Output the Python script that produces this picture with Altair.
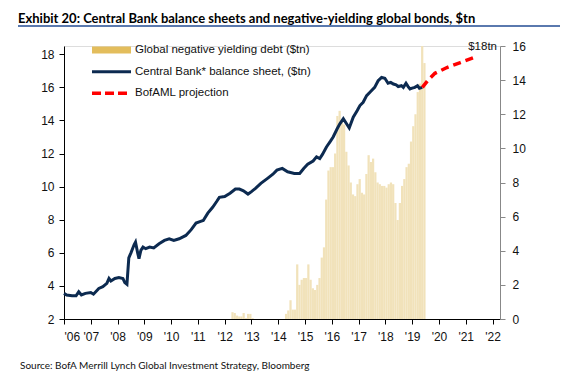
import altair as alt
import pandas as pd

# ---------------- data ----------------
cb_years = [2006.0, 2006.1, 2006.3, 2006.45, 2006.55, 2006.65, 2006.8, 2007.0, 2007.1, 2007.3,
            2007.45, 2007.6, 2007.68, 2007.75, 2007.9, 2008.05, 2008.2, 2008.27, 2008.35, 2008.42,
            2008.5, 2008.62, 2008.67, 2008.75, 2008.8, 2008.87, 2008.95, 2009.05, 2009.2, 2009.35,
            2009.55, 2009.75, 2009.93, 2010.1, 2010.3, 2010.55, 2010.75, 2010.93, 2011.1, 2011.2,
            2011.37, 2011.55, 2011.7, 2011.8, 2012.0, 2012.2, 2012.4, 2012.55, 2012.7, 2012.87,
            2013.0, 2013.15, 2013.35, 2013.6, 2013.8, 2013.95, 2014.15, 2014.35, 2014.6, 2014.8,
            2014.95, 2015.1, 2015.3, 2015.43, 2015.55, 2015.65, 2015.8, 2015.95, 2016.05, 2016.2,
            2016.3, 2016.43, 2016.55, 2016.65, 2016.8, 2016.95, 2017.05, 2017.17, 2017.3, 2017.45,
            2017.6, 2017.73, 2017.86, 2017.98, 2018.1, 2018.2, 2018.3, 2018.4, 2018.48, 2018.6,
            2018.67, 2018.77, 2018.85, 2018.92, 2019.0, 2019.1, 2019.2, 2019.27, 2019.38]
cb_values = [3.55, 3.45, 3.4, 3.4, 3.65, 3.45, 3.55, 3.6, 3.5, 3.85,
             3.95, 4.15, 4.45, 4.3, 4.45, 4.5, 4.45, 4.2, 4.1, 5.7,
             6.0, 6.5, 6.65, 6.0, 5.65, 6.15, 6.35, 6.25, 6.35, 6.3,
             6.55, 6.75, 6.85, 6.75, 6.85, 7.05, 7.4, 7.8, 7.9, 7.95,
             8.4, 8.75, 9.1, 9.35, 9.4, 9.6, 9.85, 9.85, 9.75, 9.55,
             9.7, 9.9, 10.2, 10.5, 10.75, 11.0, 11.1, 10.9, 10.8, 10.8,
             11.1, 11.35, 11.55, 11.8, 11.7, 11.95, 12.4, 12.75, 13.0, 13.5,
             13.8, 14.1, 13.8, 13.55, 14.2, 14.6, 14.9, 15.1, 15.5, 15.75,
             16.0, 16.4, 16.6, 16.55, 16.25, 16.3, 16.2, 16.15, 16.05, 16.1,
             16.0, 16.25, 16.05, 15.9, 15.95, 16.0, 16.1, 15.95, 16.0]

proj_years = [2019.38, 2019.6, 2019.85, 2020.3, 2020.8, 2021.3]
proj_values = [16.0, 16.45, 16.85, 17.2, 17.5, 17.8]

# Global negative-yielding debt ($tn), monthly from Jan 2012
nyd_2012 = [0, 0, 0, 0.4, 0.35, 0.2, 0.15, 0.15, 0.35, 0.05, 0.3, 0.3]
nyd_2013 = [0.05, 0, 0, 0, 0, 0, 0, 0, 0, 0, 0, 0]
nyd_2014 = [0, 0, 0, 0.3, 0.5, 1.1, 0.55, 0.55, 3.2, 2.0, 2.3, 2.4]
nyd_2015 = [2.4, 3.2, 2.3, 1.8, 1.7, 2.0, 2.4, 3.6, 4.2, 7.0, 8.7, 8.9]
nyd_2016 = [8.9, 9.7, 11.9, 12.2, 11.6, 11.4, 9.8, 9.0, 8.0, 7.3, 7.2, 7.9]
nyd_2017 = [8.2, 7.4, 7.3, 8.5, 9.6, 9.2, 9.4, 8.6, 8.0, 7.9, 7.8, 7.8]
nyd_2018 = [7.7, 7.9, 8.0, 7.9, 6.8, 5.8, 6.8, 7.8, 8.2, 8.9, 9.1, 10.4]
nyd_2019 = [11.3, 12.0, 13.3, 13.8, 16.0, 15.0]
nyd_first_year = 2012

year_ticks = list(range(2006, 2023))
left_ticks = [2, 4, 6, 8, 10, 12, 14, 16, 18]
right_ticks = [0, 2, 4, 6, 8, 10, 12, 14, 16]

title_text = "Exhibit 20: Central Bank balance sheets and negative-yielding global bonds, $tn"
source_text = "Source:  BofA Merrill Lynch Global Investment Strategy, Bloomberg"
legend_labels = ["Global negative yielding debt ($tn)",
                 "Central Bank* balance sheet, ($tn)",
                 "BofAML projection"]
annot_text = "$18tn"
annot_year, annot_value = 2021.63, 18.44

# ---------------- tables ----------------
nyd = nyd_2012 + nyd_2013 + nyd_2014 + nyd_2015 + nyd_2016 + nyd_2017 + nyd_2018 + nyd_2019
bars_df = pd.DataFrame({
    "start": [nyd_first_year + i / 12 for i in range(len(nyd))],
    "end": [nyd_first_year + (i + 1) / 12 for i in range(len(nyd))],
    "debt": nyd,
})
cb_df = pd.DataFrame({"year": cb_years, "value": cb_values})
proj_df = pd.DataFrame({"year": proj_years, "value": proj_values})
annot_df = pd.DataFrame({"year": [annot_year], "value": [annot_value], "label": [annot_text]})
one = alt.Data(values=[{"a": 1}])

FONT = "Liberation Sans"
TFONT = "Lato"
TXT = "#111111"
NAVY = "#0C2A50"
RED = "#FF0000"
GOLD = "#E3BD5C"
GOLD_LIGHT = "#F1E2BA"

W, H = 436, 273

xscale = alt.Scale(domain=[2006, 2022.28], nice=False, zero=False)
xaxis = alt.Axis(values=year_ticks, labelExpr="\"'\" + substring(toString(datum.value), 2, 4)",
                 tickSize=5, labelPadding=7, labelFont=FONT, labelFontSize=12,
                 labelColor=TXT, domainColor="#000", tickColor="#000", grid=False, title=None)
left_scale = alt.Scale(domain=[2, 18.5], nice=False, zero=False)
left_axis = alt.Axis(values=left_ticks, orient="left", tickSize=5, labelPadding=5,
                     labelFont=FONT, labelFontSize=12, labelColor=TXT,
                     domainColor="#000", tickColor="#000", grid=False, title=None)
right_scale = alt.Scale(domain=[0, 16], nice=False, zero=True)
right_axis = alt.Axis(values=right_ticks, orient="right", tickSize=5, labelPadding=7,
                      labelFont=FONT, labelFontSize=12, labelColor=TXT,
                      domainColor="#888", tickColor="#888", grid=False, title=None)

X = alt.X("year:Q", scale=xscale, axis=xaxis)
YL = alt.Y("value:Q", scale=left_scale, axis=left_axis)

bars = alt.Chart(bars_df).mark_bar(color=GOLD_LIGHT).encode(
    x=alt.X("start:Q", scale=xscale, axis=xaxis),
    x2="end:Q",
    y=alt.Y("debt:Q", scale=right_scale, axis=right_axis),
    y2=alt.datum(0),
)

cb_line = alt.Chart(cb_df).mark_line(color=NAVY, strokeWidth=3).encode(x=X, y=YL)
proj_line = alt.Chart(proj_df).mark_line(color=RED, strokeWidth=3.5, strokeDash=[8, 5]).encode(x=X, y=YL)
annot = alt.Chart(annot_df).mark_text(font=FONT, fontSize=11.5, color=TXT, align="center",
                                      baseline="middle").encode(x=X, y=YL, text="label:N")

left_group = alt.layer(cb_line, proj_line, annot)

# legend (drawn by hand)
leg_ys = [4, 25.7, 47.3]
leg_sw1 = alt.Chart(one).mark_rule(color=GOLD, strokeWidth=7).encode(
    x=alt.value(28), x2=alt.value(67), y=alt.value(leg_ys[0]))
leg_sw2 = alt.Chart(one).mark_rule(color=NAVY, strokeWidth=3).encode(
    x=alt.value(28), x2=alt.value(67), y=alt.value(leg_ys[1]))
leg_sw3 = alt.Chart(one).mark_rule(color=RED, strokeWidth=3.5, strokeDash=[9, 4]).encode(
    x=alt.value(28), x2=alt.value(64), y=alt.value(leg_ys[2]))
leg_txt = [alt.Chart(one).mark_text(text=lab, font=FONT, fontSize=11.5, color=TXT,
                                     align="left", baseline="middle").encode(
    x=alt.value(71), y=alt.value(yy)) for lab, yy in zip(legend_labels, leg_ys)]

title = alt.Chart(one).mark_text(text=title_text, font=TFONT, fontSize=13, fontWeight="bold",
                                 color="#000", align="left", baseline="alphabetic").encode(
    x=alt.value(-46), y=alt.value(-23))
underline = alt.Chart(one).mark_rule(color="#5A79AE", strokeWidth=2).encode(
    x=alt.value(-46), x2=alt.value(507), y=alt.value(-20))
source = alt.Chart(one).mark_text(text=source_text, font=TFONT, fontSize=10, color=TXT,
                                  align="left", baseline="middle").encode(
    x=alt.value(-44), y=alt.value(320))

chart = alt.layer(
    bars, left_group, leg_sw1, leg_sw2, leg_sw3, *leg_txt, title, underline, source
).resolve_scale(y="independent").properties(
    width=W, height=H,
    autosize=alt.AutoSizeParams(type="none"),
    padding={"left": 56, "top": 38, "right": 60, "bottom": 62},
).configure_view(stroke=None).configure(background="white")

chart.save("out.html", embed_options={"renderer": "svg", "actions": False})
